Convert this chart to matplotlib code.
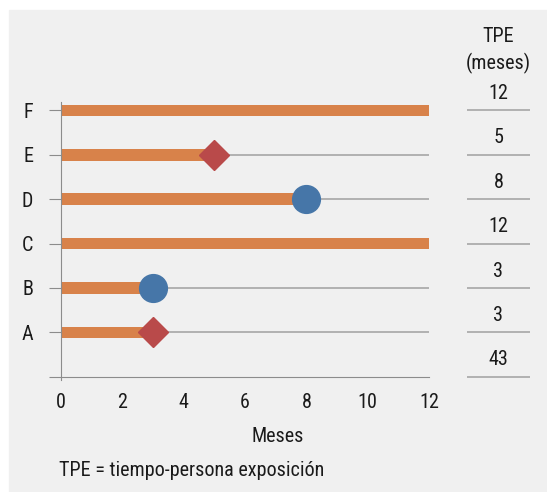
import matplotlib.pyplot as plt
from matplotlib.patches import Rectangle

# persona / meses de exposición
personas = ['A', 'B', 'C', 'D', 'E', 'F']
tpe = [3, 3, 12, 8, 5, 12]
evento = ['diamante', 'circulo', None, 'circulo', 'diamante', None]
total_tpe = 43
meses_ticks = [0, 2, 4, 6, 8, 10, 12]

plt.rcParams['font.family'] = ['Roboto Condensed', 'Liberation Sans', 'DejaVu Sans']
FS = 14.5
TXT = '#1a1a1a'

W, H = 547, 492
fig = plt.figure(figsize=(W / 100, H / 100), dpi=100)
fig.patch.set_facecolor('white')
fig.patches.append(Rectangle((9 / W, 0), 1 - 9 / W, 1 - 10 / H,
                             transform=fig.transFigure, color='#f0f0f0', zorder=-5))

def px(x0, y0, x1, y1):
    return [x0 / W, 1 - y1 / H, (x1 - x0) / W, (y1 - y0) / H]

Y0 = -0.07
ax = fig.add_axes(px(61, 101.5, 429, 379.8))
ax.set_facecolor('none')
ypos = list(range(1, len(personas) + 1))

for y in ypos:
    ax.plot([0, 12], [y, y], color='#a6a6a6', lw=1.2, zorder=1)

ax.barh(ypos, tpe, height=0.26, color='#d8824a', zorder=2)
for y, v, ev in zip(ypos, tpe, evento):
    if ev == 'circulo':
        ax.plot(v, y, 'o', ms=20, color='#4676a8', zorder=3)
    elif ev == 'diamante':
        ax.plot(v, y, 'D', ms=15.5, color='#b94a4a', zorder=3)

ax.set_xlim(0, 12)
ax.set_ylim(Y0, 6.2)
ax.spines['bottom'].set_position(('data', 0))
ax.set_xticks(meses_ticks)
ax.set_yticks([0] + ypos)
ax.set_yticklabels([''] + personas)
for s in ['top', 'right']:
    ax.spines[s].set_visible(False)
for s in ['left', 'bottom']:
    ax.spines[s].set_color('#8c8c8c')
ax.tick_params(axis='y', length=9, color='#8c8c8c', pad=11, labelsize=FS, labelcolor=TXT)
ax.tick_params(axis='x', length=0, pad=12, labelsize=FS, labelcolor=TXT)
fig.text(278 / W, 1 - 436 / H, 'Meses', ha='center', va='center', fontsize=FS, color=TXT)

# tabla TPE a la derecha
tab = fig.add_axes(px(467, 101.5, 530, 379.8), sharey=ax)
tab.set_facecolor('none')
tab.axis('off')
tab.set_xlim(0, 1)
for y, v in zip(ypos, tpe):
    tab.plot([0, 1], [y, y], color='#a6a6a6', lw=1.2)
    tab.text(0.5, y + 0.38, str(v), ha='center', va='center', fontsize=FS, color=TXT)
tab.plot([0, 1], [0, 0], color='#a6a6a6', lw=1.2)
tab.text(0.5, 0.38, str(total_tpe), ha='center', va='center', fontsize=FS, color=TXT)

fig.text(498 / W, 1 - 36 / H, 'TPE', ha='center', va='center', fontsize=FS, color=TXT)
fig.text(498 / W, 1 - 63 / H, '(meses)', ha='center', va='center', fontsize=FS, color=TXT)
fig.text(59 / W, 1 - 471 / H, 'TPE = tiempo-persona exposición', ha='left', va='center',
         fontsize=FS, color=TXT)

fig.savefig('out.png', dpi=100)
